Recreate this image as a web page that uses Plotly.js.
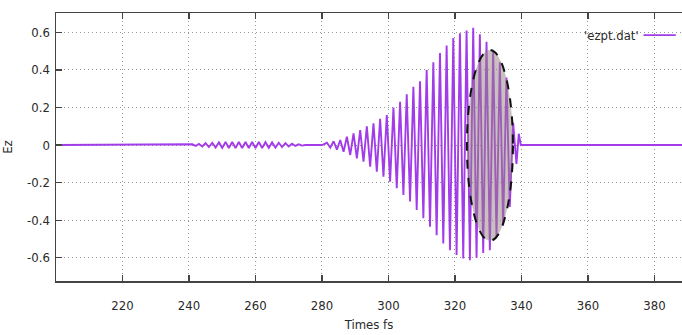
<!DOCTYPE html>
<html>
<head>
<meta charset="utf-8">
<script src="https://cdn.plot.ly/plotly-3.0.1.min.js"></script>
<style>html,body{margin:0;padding:0;background:#fff;}#chart{width:682px;height:335px;}</style>
</head>
<body>
<div id="chart"></div>
<script>
// Time (fs) of each turning point of the recorded field, and Ez there
const timesFs = [
  200, 240, 241, 242, 243, 244, 245, 246, 247, 248, 249, 250, 251, 252, 253, 254, 255,
  256, 257, 258, 259, 260, 261, 262, 263, 264, 265, 266, 267, 268, 269, 270, 271, 272,
  273, 274, 275, 280,
  281.5, 282.5, 283.5, 284.5, 285.5, 286.5, 287.5, 288.5, 289.5, 290.5, 291.5, 292.5,
  293.5, 294.5, 295.5, 296.5, 297.5, 298.5, 299.5, 300.5, 301.5, 302.5, 303.5, 304.5,
  305.5, 306.5, 307.5, 308.5, 309.5, 310.5, 311.5, 312.5, 313.5, 314.5, 315.5, 316.5,
  317.5, 318.5, 319.5, 320.5, 321.5, 322.5, 323.5, 324.5, 325.5, 326.5, 327.5, 328.5,
  329.5, 330.5, 331.5, 332.5, 333.5, 334.5, 335.5, 336.5, 337.5, 338.5, 339.2, 339.8,
  388.3
];
const ezValues = [
  0, 0, 0.004, -0.005, 0.006, -0.008, 0.010, -0.011, 0.012, -0.013, 0.014, -0.015, 0.016,
  -0.016, 0.016, -0.016, 0.016, -0.016, 0.016, -0.016, 0.016, -0.016, 0.016, -0.016,
  0.015, -0.015, 0.014, -0.013, 0.012, -0.011, 0.010, -0.008, 0.007, -0.005, 0.004,
  -0.003, 0, 0,
  0.012, -0.014, 0.020, -0.025, 0.027, -0.036, 0.044, -0.053, 0.062, -0.071, 0.080, -0.089,
  0.100, -0.115, 0.115, -0.142, 0.140, -0.169, 0.160, -0.195, 0.200, -0.230, 0.230, -0.266,
  0.270, -0.300, 0.310, -0.346, 0.340, -0.390, 0.400, -0.435, 0.440, -0.480, 0.490, -0.524,
  0.530, -0.560, 0.570, -0.586, 0.595, -0.604, 0.610, -0.613, 0.625, -0.600, 0.590, -0.575,
  0.550, -0.560, 0.500, -0.490, 0.440, -0.430, 0.360, -0.330, 0.120, -0.100, 0.060, 0,
  0
];
const xTickVals = [220, 240, 260, 280, 300, 320, 340, 360, 380];
const yTickVals = [-0.6, -0.4, -0.2, 0, 0.2, 0.4, 0.6];
const yTickText = ['-0.6', '-0.4', '-0.2', '0', '0.2', '0.4', '0.6'];
const seriesName = "'ezpt.dat'";

const lineColor = '#a23ce8';
const font = {family: '"Liberation Sans Narrow", "DejaVu Sans Condensed", Arial, sans-serif', size: 13, color: '#2a2a2a'};

const trace = {
  x: timesFs, y: ezValues, type: 'scatter', mode: 'lines',
  line: {color: lineColor, width: 1.9}, name: seriesName, showlegend: false, hoverinfo: 'skip'
};

const gridDash = '1px,3px';

const layout = {
  width: 682, height: 335,
  margin: {l: 56, r: 0, t: 13, b: 54},
  paper_bgcolor: '#fff', plot_bgcolor: '#fff',
  font: font,
  showlegend: false,
  xaxis: {
    range: [200, 388.3], tickvals: xTickVals, ticks: 'inside', ticklen: 6, tickwidth: 1.2,
    tickcolor: '#444', showline: true, linecolor: '#444', linewidth: 1.5, mirror: 'ticks',
    showgrid: true, gridcolor: '#999', griddash: gridDash, gridwidth: 1, zeroline: false,
    ticklabelstandoff: 12,
    title: {text: 'Times fs', font: font, standoff: 8}
  },
  yaxis: {
    range: [-0.724, 0.703], tickvals: yTickVals, ticktext: yTickText, ticks: 'inside',
    ticklen: 6, tickwidth: 1.2, tickcolor: '#444', showline: true, linecolor: '#444',
    linewidth: 1.5, mirror: false, showgrid: true, gridcolor: '#999', griddash: gridDash,
    gridwidth: 1, zeroline: false, ticklabelstandoff: 2,
    title: {text: 'Ez', font: font, standoff: 14}
  },
  shapes: [
    {type: 'circle', xref: 'x', yref: 'y', x0: 323.6, x1: 337.45, y0: -0.51, y1: 0.506,
     fillcolor: 'rgba(150,130,130,0.5)', line: {color: '#111', width: 2, dash: 'dash'}, layer: 'above'},
    {type: 'line', xref: 'paper', yref: 'paper', x0: 0.9386, x1: 0.99, y0: 0.9175, y1: 0.9175,
     line: {color: lineColor, width: 1.6}}
  ],
  annotations: [
    {xref: 'paper', yref: 'paper', x: 0.934, y: 0.9175, xanchor: 'right', yanchor: 'middle',
     text: seriesName, showarrow: false, font: font}
  ]
};

Plotly.newPlot('chart', [trace], layout, {displayModeBar: false, staticPlot: true});
</script>
</body>
</html>
